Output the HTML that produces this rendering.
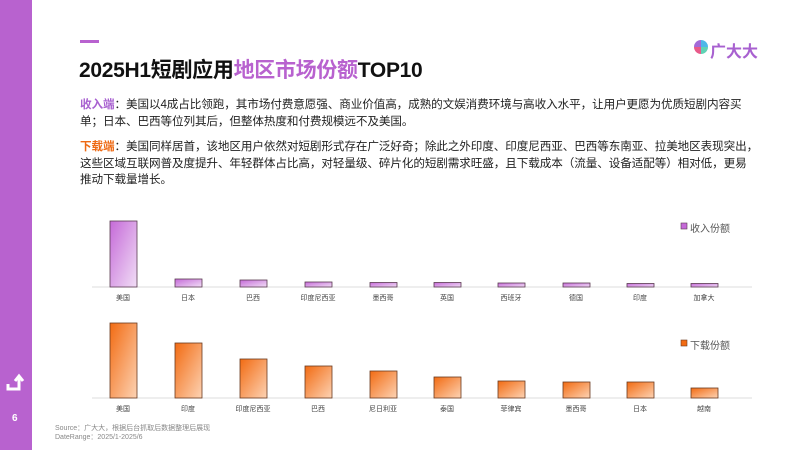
<!DOCTYPE html>
<html><head><meta charset="utf-8"><style>
body{margin:0;width:800px;height:450px;overflow:hidden;background:#fff;font-family:"Liberation Sans","Noto Sans CJK SC",sans-serif;position:relative}
.a{position:absolute}
.t{font-size:11.6px;color:#222;line-height:16.5px;letter-spacing:-0.1px}
.lb{font-size:7px;color:#444;text-align:center;width:60px}
</style></head><body>
<div class="a" style="left:0;top:0;width:32px;height:450px;background:#b862cf"></div>
<svg class="a" style="left:6px;top:372px" width="22" height="20"><path d="M2 12 V17 H13 V5 M9 9 L13 4 L17 9" stroke="#fff" stroke-width="3" fill="none"/></svg>
<div class="a" style="left:12px;top:413px;color:#fff;font-size:10px;font-weight:bold">6</div>
<div class="a" style="left:80px;top:40px;width:19px;height:3px;background:#b862cf"></div>
<div class="a" style="left:79px;top:54px;font-size:21px;font-weight:bold;color:#111;letter-spacing:-0.3px">2025H1短剧应用<span style="color:#b862cf">地区市场份额</span>TOP10</div>
<div class="a" style="left:694px;top:40px;width:14px;height:14px;border-radius:50%;background:conic-gradient(#4db8e8 0 25%,#5fd3b5 0 50%,#e85a8a 0 75%,#a36ad8 0)"></div>
<div class="a" style="left:710px;top:38px;font-size:16px;font-weight:bold;color:#a861d0">广大大</div>
<div class="a t" style="left:80px;top:97px;width:674px"><span style="color:#a861d0;font-weight:bold">收入端</span>：美国以4成占比领跑，其市场付费意愿强、商业价值高，成熟的文娱消费环境与高收入水平，让用户更愿为优质短剧内容买单；日本、巴西等位列其后，但整体热度和付费规模远不及美国。</div>
<div class="a t" style="left:80px;top:139px;width:684px"><span style="color:#ee6a14;font-weight:bold">下载端</span>：美国同样居首，该地区用户依然对短剧形式存在广泛好奇；除此之外印度、印度尼西亚、巴西等东南亚、拉美地区表现突出，<br>这些区域互联网普及度提升、年轻群体占比高，对轻量级、碎片化的短剧需求旺盛，且下载成本（流量、设备适配等）相对低，更易<br>推动下载量增长。</div>
<svg class="a" style="left:0;top:0" width="800" height="450">
<defs>
<linearGradient id="p" x1="0" y1="0" x2="1" y2="1"><stop offset="0" stop-color="#c56ad8"/><stop offset="1" stop-color="#f1def6"/></linearGradient>
<linearGradient id="o" x1="0" y1="0" x2="1" y2="1"><stop offset="0" stop-color="#f26b12"/><stop offset="1" stop-color="#fdd3b4"/></linearGradient>
</defs>
<line x1="92" y1="287" x2="752" y2="287" stroke="#ddd"/>
<line x1="92" y1="398" x2="752" y2="398" stroke="#ddd"/>
<g stroke="#5a3a50" stroke-width="0.8" fill="url(#p)">
<rect x="110" y="221" width="27" height="66"/><rect x="175" y="279" width="27" height="8"/><rect x="240" y="280" width="27" height="7"/><rect x="305" y="282" width="27" height="5"/><rect x="370" y="282.5" width="27" height="4.5"/><rect x="434" y="282.5" width="27" height="4.5"/><rect x="498" y="283" width="27" height="4"/><rect x="563" y="283" width="27" height="4"/><rect x="627" y="283.5" width="27" height="3.5"/><rect x="691" y="283.5" width="27" height="3.5"/>
</g>
<g stroke="#6a3a20" stroke-width="0.8" fill="url(#o)">
<rect x="110" y="323" width="27" height="75"/><rect x="175" y="343" width="27" height="55"/><rect x="240" y="359" width="27" height="39"/><rect x="305" y="366" width="27" height="32"/><rect x="370" y="371" width="27" height="27"/><rect x="434" y="377" width="27" height="21"/><rect x="498" y="381" width="27" height="17"/><rect x="563" y="382" width="27" height="16"/><rect x="627" y="382" width="27" height="16"/><rect x="691" y="388" width="27" height="10"/>
</g>
<rect x="681" y="223" width="6" height="6" fill="#c56ad8" stroke="#5a3a50" stroke-width="0.6"/>
<rect x="681" y="340" width="6" height="6" fill="#f26b12" stroke="#6a3a20" stroke-width="0.6"/>
</svg>
<div class="a" style="left:690px;top:220px;font-size:10px;color:#555">收入份额</div>
<div class="a" style="left:690px;top:337px;font-size:10px;color:#555">下载份额</div>
<div class="a lb" style="left:93px;top:293px">美国</div><div class="a lb" style="left:158px;top:293px">日本</div><div class="a lb" style="left:223px;top:293px">巴西</div><div class="a lb" style="left:288px;top:293px">印度尼西亚</div><div class="a lb" style="left:353px;top:293px">墨西哥</div><div class="a lb" style="left:417px;top:293px">英国</div><div class="a lb" style="left:481px;top:293px">西班牙</div><div class="a lb" style="left:546px;top:293px">德国</div><div class="a lb" style="left:610px;top:293px">印度</div><div class="a lb" style="left:674px;top:293px">加拿大</div>
<div class="a lb" style="left:93px;top:404px">美国</div><div class="a lb" style="left:158px;top:404px">印度</div><div class="a lb" style="left:223px;top:404px">印度尼西亚</div><div class="a lb" style="left:288px;top:404px">巴西</div><div class="a lb" style="left:353px;top:404px">尼日利亚</div><div class="a lb" style="left:417px;top:404px">泰国</div><div class="a lb" style="left:481px;top:404px">菲律宾</div><div class="a lb" style="left:546px;top:404px">墨西哥</div><div class="a lb" style="left:610px;top:404px">日本</div><div class="a lb" style="left:674px;top:404px">越南</div>
<div class="a" style="left:55px;top:424px;font-size:7px;color:#888;line-height:9px">Source：广大大，根据后台抓取后数据整理后展现<br>DateRange：2025/1-2025/6</div>
</body></html>
